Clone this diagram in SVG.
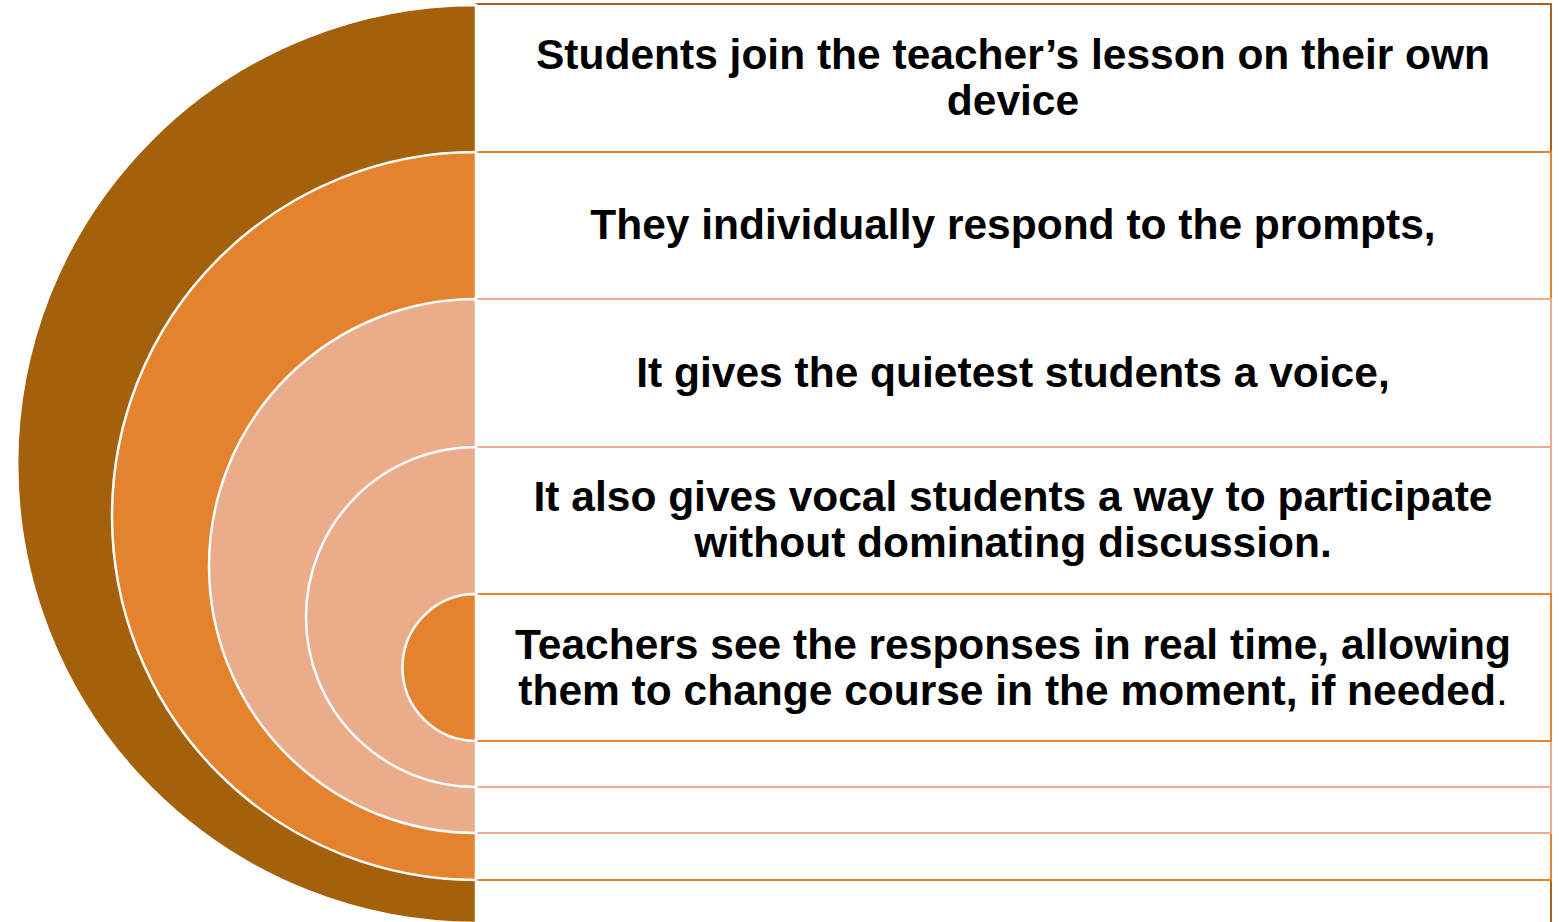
<svg xmlns="http://www.w3.org/2000/svg" width="1559" height="922" viewBox="0 0 1559 922">
<style>
.box{fill:#FFFFFF;stroke-width:2}
.arc{stroke:#FFFFFF;stroke-width:2.5}
.t{font-family:"Liberation Sans",Arial,sans-serif;font-weight:bold;font-size:42.5px;fill:#000000;text-anchor:middle}
</style>
<rect width="1559" height="922" fill="#FFFFFF"/>
<g id="box1"><rect class="box" x="476" y="4" width="1075" height="940" stroke="#A8631A"/></g>
<g id="box2"><rect class="box" x="476" y="152" width="1075" height="728" stroke="#E5822E"/></g>
<g id="box3"><rect class="box" x="476" y="299" width="1075" height="534" stroke="#EAAC8A"/></g>
<g id="box4"><rect class="box" x="476" y="447" width="1075" height="340" stroke="#EAAC8A"/></g>
<g id="box5"><rect class="box" x="476" y="594" width="1075" height="147" stroke="#E5822E"/></g>
<g id="arc1"><path class="arc" d="M476,5 A459,459 0 0 0 476,923 Z" fill="#A5600C"/></g>
<g id="arc2"><path class="arc" d="M476,152 A364,364 0 0 0 476,880 Z" fill="#E5822E"/></g>
<g id="arc3"><path class="arc" d="M476,299 A267,267 0 0 0 476,833 Z" fill="#EAAC8A"/></g>
<g id="arc4"><path class="arc" d="M476,447 A170,170 0 0 0 476,787 Z" fill="#EAAC8A"/></g>
<g id="arc5"><path class="arc" d="M476,594 A73.5,73.5 0 0 0 476,741 Z" fill="#E5822E"/></g>
<g id="labels">
<text class="t" x="1013" y="69">Students join the teacher’s lesson on their own</text>
<text class="t" x="1013" y="115">device</text>
<text class="t" x="1013" y="239">They individually respond to the prompts,</text>
<text class="t" x="1013" y="387">It gives the quietest students a voice,</text>
<text class="t" x="1013" y="511">It also gives vocal students a way to participate</text>
<text class="t" x="1013" y="557">without dominating discussion.</text>
<text class="t" x="1013" y="659">Teachers see the responses in real time, allowing</text>
<text class="t" x="1013" y="705">them to change course in the moment, if needed<tspan font-weight="normal">.</tspan></text>
</g>
</svg>
